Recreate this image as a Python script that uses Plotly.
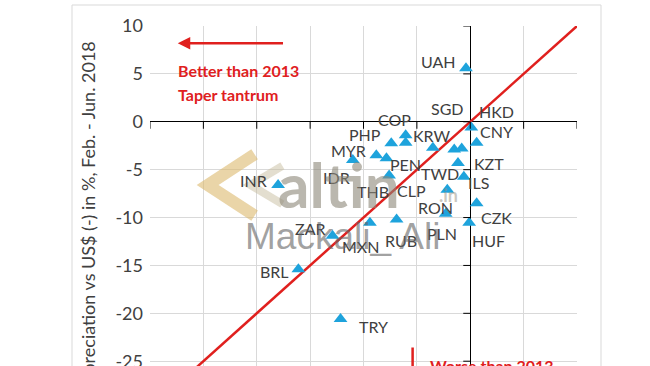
import plotly.graph_objects as go

# ---- data ----
currencies = ["UAH", "HKD", "CNY", "KRW", "SGD", "TWD", "KZT", "ILS", "RON", "CZK",
              "PLN", "HUF", "COP", "CLP", "PHP", "IDR", "PEN", "MYR", "THB", "INR",
              "MXN", "RUB", "ZAR", "BRL", "TRY"]
taper_2013 = [-0.4, 0.1, 0.6, -3.5, -1.5, -0.8, -1.15, -0.6, -2.15, 0.6,
              -2.3, -0.1, -6.05, -6.05, -7.4, -8.8, -7.85, -11.0, -7.6, -18.0,
              -9.4, -6.9, -12.9, -16.1, -12.15]
feb_jun_2018 = [5.6, -0.6, -2.2, -2.7, -2.9, -2.8, -4.3, -5.75, -7.1, -8.5,
                -9.6, -10.55, -1.4, -2.2, -2.25, -3.5, -3.8, -4.0, -5.6, -6.6,
                -10.55, -10.2, -11.9, -15.4, -20.6]
# label offsets (px) from each point: style only
label_dx = [-27, 25, 20, -1, -7, -22, 31, 15, -12, 20,
            -4, 19, -11, 6, -26, -40, 19, -4, -16, -25,
            -9, 4, -22, -24, 33]
label_dy = [-7, -16, -11, -12, -41, 25, 1, 6, 18, 14,
            20, 18, -16, 48, -9, 22, 6, -10, 16, -4,
            24, 21, -7, 2, 7]
diag = [-35, 10]
x_ticks = [-30, -25, -20, -15, -10, -5, 0, 5, 10]
y_ticks = [-25, -20, -15, -10, -5, 0, 5, 10]
y_ticktext = [str(v) for v in y_ticks]

FONT = "Lato"
RED = "#e0201e"

fig = go.Figure()
fig.add_trace(go.Scatter(x=diag, y=diag, mode="lines",
                         line=dict(color=RED, width=2.5), hoverinfo="skip"))
fig.add_trace(go.Scatter(x=taper_2013, y=feb_jun_2018, mode="markers",
                         marker=dict(symbol="triangle-up", size=12, color="#1ea3dc"),
                         text=currencies))

annotations = []
for c, xv, yv, dx, dy in zip(currencies, taper_2013, feb_jun_2018, label_dx, label_dy):
    annotations.append(dict(x=xv, y=yv, xref="x", yref="y", text=c, showarrow=False,
                            xshift=dx, yshift=-dy,
                            font=dict(family=FONT, size=16, color="#404040")))

# arrows and commentary
annotations += [
    dict(x=-27.4, y=8.2, ax=-17.4, ay=8.2, xref="x", yref="y", axref="x", ayref="y",
         text="", showarrow=True, arrowhead=2, arrowsize=1, arrowwidth=2.5, arrowcolor=RED),
    dict(x=-27.6, y=5.4, xref="x", yref="y", xanchor="left", showarrow=False,
         text="<b>Better than 2013</b>", font=dict(family=FONT, size=16, color=RED)),
    dict(x=-27.6, y=2.8, xref="x", yref="y", xanchor="left", showarrow=False,
         text="<b>Taper tantrum</b>", font=dict(family=FONT, size=16, color=RED)),
    dict(x=-5.4, y=-27, ax=-5.4, ay=-23.4, xref="x", yref="y", axref="x", ayref="y",
         text="", showarrow=True, arrowhead=2, arrowwidth=2.5, arrowcolor=RED),
    dict(x=-4.0, y=-25.4, xref="x", yref="y", xanchor="left", showarrow=False,
         text="<b>Worse than 2013</b>", font=dict(family=FONT, size=16, color=RED)),
    # axis title
    dict(x=-0.145, y=0.96, xref="paper", yref="paper", xanchor="center", yanchor="top",
         textangle=-90, showarrow=False,
         text="Appreciation (+) / depreciation vs US$ (-) in %, Feb. - Jun. 2018",
         font=dict(family=FONT, size=18, color="#404040")),
    # watermark
    dict(x=-12.3, y=-6.5, xref="x", yref="y", showarrow=False, text="<b>altin</b>",
         font=dict(family=FONT, size=62, color="rgba(140,135,120,0.6)")),
    dict(x=-2.0, y=-7.6, xref="x", yref="y", showarrow=False, text="<b>.in</b>",
         font=dict(family=FONT, size=18, color="rgba(150,145,130,0.5)")),
    dict(x=-12.0, y=-12.0, xref="x", yref="y", showarrow=False, text="Mackali_ Ali",
         font=dict(family="Liberation Sans", size=37, color="rgba(100,100,100,0.6)")),
]

shapes = []
for xv in x_ticks:
    shapes.append(dict(type="line", xref="x", yref="y", ysizemode="pixel", yanchor=0,
                       x0=xv, x1=xv, y0=0, y1=-7, line=dict(color="black", width=1)))
for yv in y_ticks:
    shapes.append(dict(type="line", xref="x", yref="y", xsizemode="pixel", xanchor=0,
                       y0=yv, y1=yv, x0=0, x1=-7, line=dict(color="black", width=1)))
# watermark logo (chevrons)
shapes.append(dict(type="path", xref="x", yref="y",
                   path="M -20.2,-3.4 L -24.6,-6.6 L -20.2,-9.8",
                   line=dict(color="rgba(220,185,110,0.6)", width=12)))
shapes.append(dict(type="path", xref="x", yref="y",
                   path="M -17.6,-4.6 L -20.6,-6.6 L -17.6,-8.6",
                   line=dict(color="rgba(200,190,160,0.5)", width=8)))
# chart frame
shapes.append(dict(type="rect", xref="paper", yref="paper",
                   x0=(72 - 150) / 427, x1=(601 - 150) / 427,
                   y0=-0.2, y1=(366 - 5) / 340,
                   line=dict(color="#d9d9d9", width=1), layer="below"))

fig.update_layout(
    width=650, height=366,
    margin=dict(l=150, r=73, t=26, b=0),
    paper_bgcolor="white", plot_bgcolor="white",
    showlegend=False,
    annotations=annotations, shapes=shapes,
    xaxis=dict(range=[-30, 10], tickvals=x_ticks, showticklabels=False,
               showgrid=True, gridcolor="#d9d9d9", gridwidth=1,
               zeroline=True, zerolinecolor="black", zerolinewidth=1,
               showline=False, fixedrange=True, automargin=False),
    yaxis=dict(range=[-25.5, 10], tickvals=y_ticks, ticktext=y_ticktext,
               showgrid=True, gridcolor="#d9d9d9", gridwidth=1,
               zeroline=True, zerolinecolor="black", zerolinewidth=1,
               showline=False, ticks="", ticklabelstandoff=6,
               ticklabeloverflow="allow",
               tickfont=dict(family=FONT, size=18, color="#404040"),
               fixedrange=True, automargin=False),
)

fig.write_html("out.html", config={"displayModeBar": False},
               post_script="document.body.style.margin='0';document.body.style.overflow='hidden';")
